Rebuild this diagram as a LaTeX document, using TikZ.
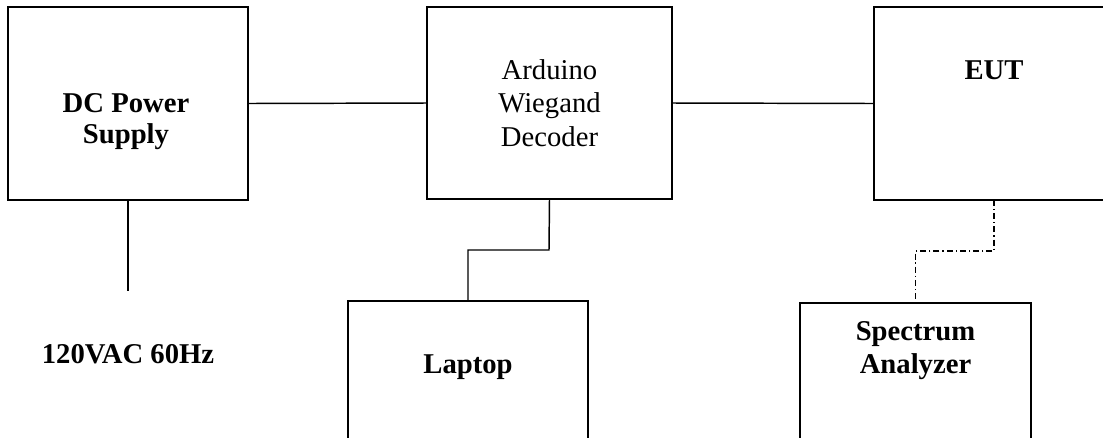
\documentclass[tikz,border=0pt]{standalone}
\usepackage{fontspec}
\setmainfont{Liberation Serif}
\begin{document}
\begin{tikzpicture}[x=0.75pt,y=-0.75pt,
  box/.style={draw,line width=1.1pt,rectangle,inner sep=0pt,outer sep=0pt},
  wire/.style={line width=1.1pt},
  dashdot/.style={line width=1.1pt,dash pattern=on 4.5pt off 2.2pt on 1pt off 2.2pt},
  lbl/.style={inner sep=0pt,align=center,font=\fontsize{21.5}{26}\selectfont},
  blbl/.style={lbl,font=\fontsize{21.5}{26}\selectfont\bfseries}]
\clip (0,0) rectangle (1103,437);
\fill[white] (0,0) rectangle (1103,437);
% boxes
\node[box,minimum width=180pt,minimum height=144.75pt] (dc) at (128,103.5) {};
\node[box,minimum width=183.75pt,minimum height=144pt] (ard) at (549.5,103) {};
\node[box,minimum width=180pt,minimum height=144.75pt] (eut) at (994,103.5) {};
\node[box,minimum width=180pt,minimum height=120pt] (lap) at (468,381) {};
\node[box,minimum width=173.25pt,minimum height=120pt] (spec) at (915.5,383) {};
% texts
\node[blbl,font=\fontsize{21.5}{23.5}\selectfont\bfseries] (dct) at (126,121.5) {DC Power\\Supply};
\node[lbl,font=\fontsize{21.5}{25.3}\selectfont] (ardt) at (549.5,103) {Arduino\\Wiegand\\Decoder};
\node[blbl,anchor=base] (eutt) at (994,79) {EUT};
\node[blbl,anchor=base] (lapt) at (468,373) {Laptop};
\node[blbl,font=\fontsize{21.5}{24.75}\selectfont\bfseries] (spect) at (915.5,351) {Spectrum\\Analyzer};
\node[blbl,anchor=base] (ac) at (128,363) {120VAC 60Hz};
% connectors
\coordinate (acend) at (128,291);
\draw[wire] (dc.east) -- (ard.west);
\draw[wire] (ard.east) -- (eut.west);
\draw[wire] (dc.south) -- (acend);
\draw[wire] (ard.south) -- (549,250) -| (lap.north);
\draw[dashdot] (eut.south) -- (994,251) -| (spec.north);
\end{tikzpicture}
\end{document}
